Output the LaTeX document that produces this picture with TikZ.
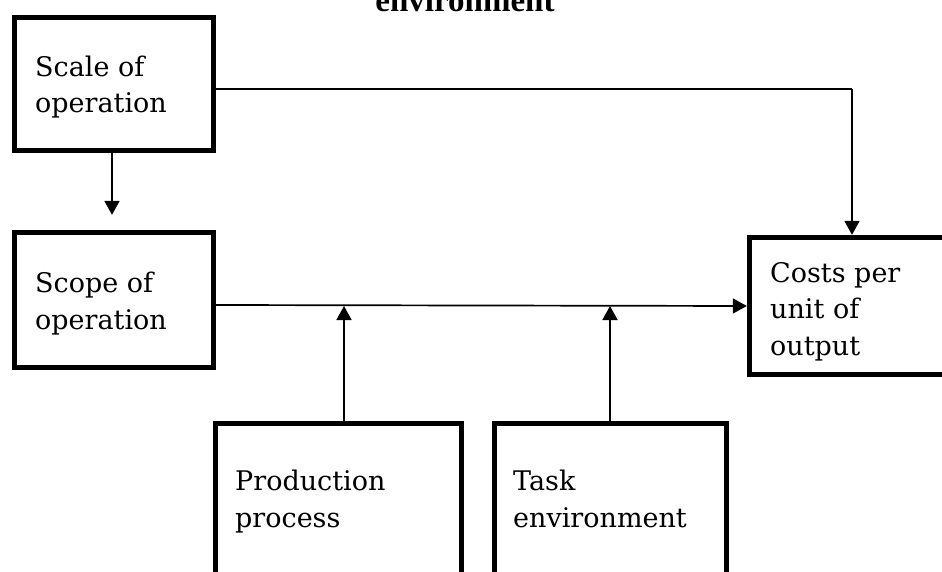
\documentclass[tikz,border=0pt]{standalone}
\usepackage{fontspec}
\setmainfont{DejaVu Serif}
\newfontfamily\titlefont{Liberation Serif}
\usetikzlibrary{arrows.meta}
\begin{document}
\begin{tikzpicture}[x=1pt,y=-1pt,
  box/.style={draw, line width=4.8pt, inner sep=0pt, rectangle},
  lbl/.style={anchor=base west, inner sep=0pt, align=left, font=\fontsize{27}{36.5}\selectfont},
  conn/.style={line width=1.7pt, -{Triangle[length=14pt,width=15pt]}},
]
\useasboundingbox (0,0) rectangle (942,572);
\clip (0,0) rectangle (942,572);
\fill[white] (0,0) rectangle (942,572);

% title (partly cut off at the top, as in the reference)
\node[anchor=base, inner sep=0pt, font=\titlefont\bfseries\fontsize{33}{36}\selectfont] (title) at (465,12) {environment};

% boxes
\node[box, minimum width=199.5pt, minimum height=133.5pt] (scale) at (114,84) {};
\node[box, minimum width=199.5pt, minimum height=135.5pt] (scope) at (114,300) {};
\node[box, minimum width=230.75pt, minimum height=137.5pt] (costs) at (864.6,306) {};
\node[box, minimum width=246.5pt, minimum height=196.75pt] (prod) at (338.5,521.6) {};
\node[box, minimum width=232pt, minimum height=196.75pt] (task) at (610.25,521.6) {};

% texts (anchor = baseline of the last line)
\node[lbl] (tscale) at (35,113) {Scale of\\operation};
\node[lbl] (tscope) at (35,329) {Scope of\\operation};
\node[lbl] (tcosts) at (770,355) {Costs per\\unit of\\output};
\node[lbl] (tprod) at (235,527) {Production\\process};
\node[lbl] (ttask) at (513,527) {Task\\environment};

% connectors
\coordinate (corner) at (852,89);
\draw[line width=1.7pt] (scale.east |- corner) -- (corner);
\draw[conn] (corner) -- (costs.north -| corner);
\draw[conn, shorten >=15pt] (scale.south -| 112,0) -- (scope.north -| 112,0);
\draw[conn] (scope.east |- 0,305) -- (costs.west);
\coordinate (j1) at (344,306);
\coordinate (j2) at (610,306);
\draw[conn] (prod.north -| j1) -- (j1);
\draw[conn] (task.north -| j2) -- (j2);
\end{tikzpicture}
\end{document}
